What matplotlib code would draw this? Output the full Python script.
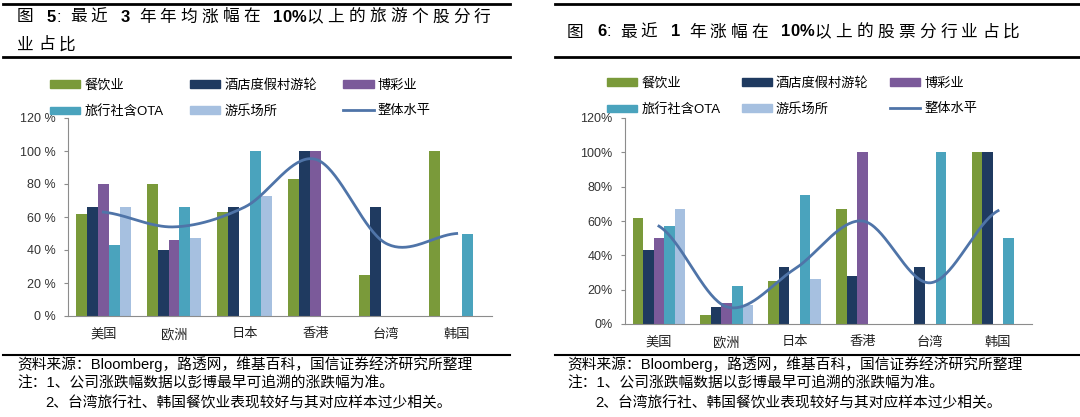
import numpy as np
import matplotlib.pyplot as plt
from matplotlib.patches import Patch
from matplotlib.lines import Line2D

plt.rcParams['font.family'] = ['Liberation Sans', 'Noto Sans CJK SC']

regions = ['美国', '欧洲', '日本', '香港', '台湾', '韩国']
sectors = ['餐饮业', '酒店度假村游轮', '博彩业', '旅行社含OTA', '游乐场所']
overall_name = '整体水平'

# 图5: 最近3年年均涨幅在10%以上 (nan = 无样本)
y3_food = [62, 80, 63, 83, 25, 100]
y3_hotel = [66, 40, 66, 100, 66, np.nan]
y3_gaming = [80, 46, np.nan, 100, np.nan, np.nan]
y3_travel = [43, 66, 100, np.nan, np.nan, 50]
y3_park = [66, 47, 73, np.nan, np.nan, np.nan]
y3_overall = [63, 54, 66, 95, 44, 50]

# 图6: 最近1年涨幅在10%以上
y1_food = [62, 5, 25, 67, np.nan, 100]
y1_hotel = [43, 10, 33, 28, 33, 100]
y1_gaming = [50, 12, np.nan, 100, np.nan, np.nan]
y1_travel = [57, 22, 75, np.nan, 100, 50]
y1_park = [67, 11, 26, np.nan, np.nan, np.nan]
y1_overall = [57, 10, 32, 60, 24, 66]

colors = ['#7A9A3A', '#1F3A60', '#7B5A9A', '#4AA3BD', '#A6C0E0']
line_color = '#4F74A8'

W, H = 1080, 417
fig = plt.figure(figsize=(W / 100, H / 100), dpi=100)
r = fig.canvas.get_renderer()


def px(x, y):
    return x / W, 1 - y / H


def smooth(xs, ys, n=40):
    p = np.concatenate([[ys[0]], ys, [ys[-1]]]).astype(float)
    xo, yo = [], []
    for i in range(len(ys) - 1):
        p0, p1, p2, p3 = p[i], p[i + 1], p[i + 2], p[i + 3]
        t = np.linspace(0, 1, n)
        yy = 0.5 * (2 * p1 + (-p0 + p2) * t + (2 * p0 - 5 * p1 + 4 * p2 - p3) * t ** 2
                    + (-p0 + 3 * p1 - 3 * p2 + p3) * t ** 3)
        xo.extend(xs[i] + t)
        yo.extend(yy)
    return np.array(xo), np.array(yo)


def spaced(x, y, parts, size, gap, space=9):
    # draw text char by char; extra spacing after CJK chars (pixel coords)
    for s, w in parts:
        for ch in s:
            if ch == ' ':
                x += space
                continue
            t = fig.text(*px(x, y), ch, fontsize=size, weight=w, va='center', ha='left')
            x += t.get_window_extent(r).width + (gap if ord(ch) > 127 else 0)


def draw_chart(rect, series, overall, leg_xy, colpad, pct):
    ax = fig.add_axes(rect)
    x = np.arange(len(regions))
    bw = 0.155
    for k, vals in enumerate(series):
        ax.bar(x + (k - 2) * bw, vals, bw, color=colors[k], zorder=2)
    sx, sy = smooth(x, np.array(overall))
    ax.plot(sx, sy, color=line_color, lw=2, zorder=3)
    ax.set_xlim(-0.5, len(regions) - 0.5)
    ax.set_ylim(0, 120)
    ax.set_yticks(range(0, 121, 20))
    ax.set_yticklabels([f'{v}{pct}' for v in range(0, 121, 20)])
    ax.set_xticks(x)
    ax.set_xticklabels(regions)
    for s in ['top', 'right']:
        ax.spines[s].set_visible(False)
    for s in ['left', 'bottom']:
        ax.spines[s].set_color('#8C8C8C')
    ax.tick_params(axis='y', length=3, color='#8C8C8C', labelsize=9, labelcolor='#333333', pad=6)
    ax.tick_params(axis='x', length=0, labelsize=9.5, labelcolor='#222222', pad=9)
    handles = [Patch(color=colors[0]), Patch(color=colors[3]),
               Patch(color=colors[1]), Patch(color=colors[4]),
               Patch(color=colors[2]), Line2D([], [], color=line_color, lw=2)]
    labels = [sectors[0], sectors[3], sectors[1], sectors[4], sectors[2], overall_name]
    ax.legend(handles, labels, ncol=3, loc='upper left', bbox_to_anchor=px(*leg_xy),
              bbox_transform=fig.transFigure, frameon=False, fontsize=9.5,
              handlelength=2.3, handleheight=0.45, handletextpad=0.3,
              columnspacing=colpad, labelspacing=1.0, borderpad=0, borderaxespad=0)
    return ax


# left panel
draw_chart([68 / W, 1 - 316 / H, 424 / W, 198 / H],
           [y3_food, y3_hotel, y3_gaming, y3_travel, y3_park], y3_overall, (50, 79), 2.0, ' %')
# right panel
draw_chart([625 / W, 1 - 324 / H, 407 / W, 206 / H],
           [y1_food, y1_hotel, y1_gaming, y1_travel, y1_park], y1_overall, (607, 77), 1.6, '%')

# rules
for x0, x1 in [(3, 510), (555, 1080)]:
    for yy, lw in [(4, 2), (57, 2), (355, 1.5)]:
        fig.add_artist(Line2D([x0 / W, x1 / W], [1 - yy / H] * 2, color='black', lw=lw))

# titles
spaced(17, 17, [('图 ', 'normal'), ('5', 'bold'), (': 最近 ', 'normal'), ('3', 'bold'),
                (' 年年均涨幅在 ', 'normal'), ('10%', 'bold'), ('以上的旅游个股分行', 'normal')], 12, 4.3)
spaced(17, 45, [('业占比', 'normal')], 12, 4.3)
spaced(567, 32, [('图 ', 'normal'), ('6', 'bold'), (': 最近 ', 'normal'), ('1', 'bold'),
                 (' 年涨幅在 ', 'normal'), ('10%', 'bold'), ('以上的股票分行业占比', 'normal')], 12, 4.3)

# notes
notes = ['资料来源：Bloomberg，路透网，维基百科，国信证券经济研究所整理',
         '注：1、公司涨跌幅数据以彭博最早可追溯的涨跌幅为准。',
         '2、台湾旅行社、韩国餐饮业表现较好与其对应样本过少相关。']
for x0, indent in [(17, 45), (567, 595)]:
    fig.text(*px(x0, 364), notes[0], fontsize=10.6, va='center')
    fig.text(*px(x0, 383), notes[1], fontsize=10.6, va='center')
    fig.text(*px(indent, 403), notes[2], fontsize=10.6, va='center')

fig.savefig('out.png', dpi=100)
